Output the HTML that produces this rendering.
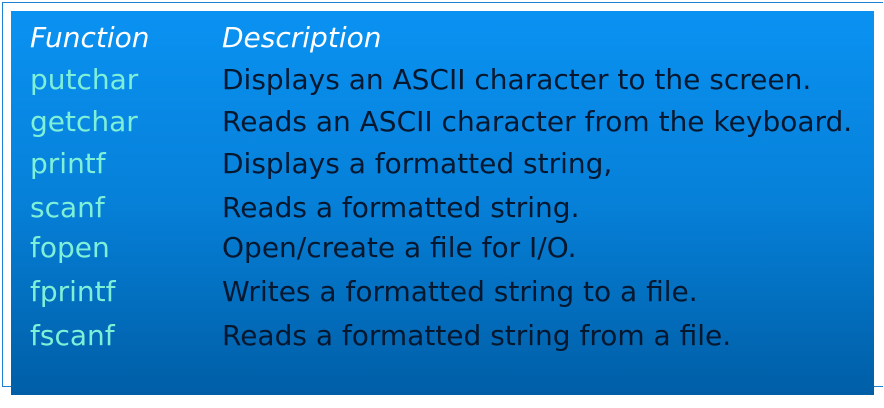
<!DOCTYPE html>
<html><head><style>
body{margin:0;width:884px;height:408px;background:#fff;position:relative;overflow:hidden;font-family:"DejaVu Sans","Liberation Sans",sans-serif;}
.frame{position:absolute;left:2px;top:2px;width:880px;height:383px;border-left:1.5px solid #1f7fd0;border-top:1.5px solid #1f7fd0;border-bottom:1.5px solid #1f7fd0;}
.box{position:absolute;left:11px;top:11px;width:863px;height:384px;background:linear-gradient(#0a92f2,#0680d8 50%,#005ea6);}
.t{position:absolute;font-size:28px;line-height:34px;white-space:nowrap;}
.h{color:#fff;font-style:italic;}
.f{color:#7ff0d8;left:30px;}
.d{color:#061830;left:222px;}
</style></head><body>
<div class="frame"></div>
<div class="box"></div>
<div class="t h" style="left:30px;top:21px">Function</div>
<div class="t h" style="left:222px;top:21px">Description</div>
<div class="t f" style="top:63px">putchar</div><div class="t d" style="top:63px">Displays an ASCII character to the screen.</div>
<div class="t f" style="top:105px">getchar</div><div class="t d" style="top:105px">Reads an ASCII character from the keyboard.</div>
<div class="t f" style="top:147px">printf</div><div class="t d" style="top:147px">Displays a formatted string,</div>
<div class="t f" style="top:191px">scanf</div><div class="t d" style="top:191px">Reads a formatted string.</div>
<div class="t f" style="top:231px">fopen</div><div class="t d" style="top:231px">Open/create a file for I/O.</div>
<div class="t f" style="top:275px">fprintf</div><div class="t d" style="top:275px">Writes a formatted string to a file.</div>
<div class="t f" style="top:319px">fscanf</div><div class="t d" style="top:319px">Reads a formatted string from a file.</div>
</body></html>
